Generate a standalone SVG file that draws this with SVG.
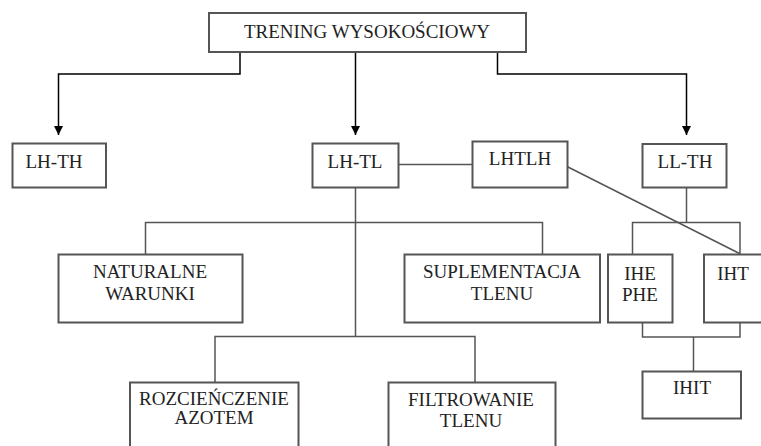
<svg xmlns="http://www.w3.org/2000/svg" width="761" height="446" viewBox="0 0 761 446">
<defs>
<marker id="arr" markerWidth="10" markerHeight="10" refX="9" refY="5" orient="auto" markerUnits="userSpaceOnUse">
<path d="M0,0.5 L9,5 L0,9.5 Z" fill="#000"/>
</marker>
<style>
.box{fill:#fff;stroke:#555;stroke-width:2}
.t{font-size:19px;fill:#222;text-anchor:middle}
.ln{fill:none;stroke:#555;stroke-width:1.5}
.ar{fill:none;stroke:#000;stroke-width:1.5}
</style>
</defs>
<rect width="761" height="446" fill="#fff"/>
<g id="connectors">
<path class="ar" d="M240,52 V74 H58.5 V135" marker-end="url(#arr)"/>
<path class="ar" d="M355.5,52 V135" marker-end="url(#arr)"/>
<path class="ar" d="M497.5,52 V74 H686.5 V135" marker-end="url(#arr)"/>
<path class="ln" d="M398,164.5 H472"/>
<path class="ln" d="M567,166.5 L739.5,253.5"/>
<path class="ln" d="M355.5,187 V337"/>
<path class="ln" d="M145.5,254.5 V222.5 H542.5 V254.5"/>
<path class="ln" d="M215,382 V336.5 H475 V382"/>
<path class="ln" d="M686.5,187 V222.5"/>
<path class="ln" d="M632.5,254.5 V222.5 H740 V254.5"/>
<path class="ln" d="M642.5,322.5 V337 H740 V322.5"/>
<path class="ln" d="M693.5,337 V371.5"/>
</g>
<g font-family="Liberation Serif, Times New Roman, serif">
<g id="n-root"><rect class="box" x="209" y="13" width="317" height="39"/><text class="t" x="367" y="38">TRENING WYSOKOŚCIOWY</text></g>
<g id="n-lhth"><rect class="box" x="12.5" y="143.5" width="93.5" height="44"/><text class="t" x="54" y="168">LH-TH</text></g>
<g id="n-lhtl"><rect class="box" x="312.5" y="143.5" width="86" height="44"/><text class="t" x="355" y="168">LH-TL</text></g>
<g id="n-lhtlh"><rect class="box" x="472.5" y="141.5" width="95" height="46"/><text class="t" x="520" y="165">LHTLH</text></g>
<g id="n-llth"><rect class="box" x="642.5" y="144" width="84" height="43.5"/><text class="t" x="685" y="168">LL-TH</text></g>
<g id="n-nat"><rect class="box" x="58.5" y="254.5" width="184" height="68"/><text class="t" x="150" y="278">NATURALNE</text><text class="t" x="150" y="300">WARUNKI</text></g>
<g id="n-sup"><rect class="box" x="404.5" y="254.5" width="195.5" height="68"/><text class="t" x="502" y="278">SUPLEMENTACJA</text><text class="t" x="502" y="300">TLENU</text></g>
<g id="n-ihe"><rect class="box" x="608" y="254.5" width="64.5" height="68"/><text class="t" x="640" y="280">IHE</text><text class="t" x="640" y="301">PHE</text></g>
<g id="n-iht"><rect class="box" x="704" y="254.5" width="70" height="68"/><text class="t" x="733" y="280">IHT</text></g>
<g id="n-rozc"><rect class="box" x="130" y="382.5" width="168.5" height="80"/><text class="t" x="214" y="405">ROZCIEŃCZENIE</text><text class="t" x="214" y="424">AZOTEM</text></g>
<g id="n-filt"><rect class="box" x="388.5" y="382.5" width="167" height="80"/><text class="t" x="471" y="406">FILTROWANIE</text><text class="t" x="471" y="427">TLENU</text></g>
<g id="n-ihit"><rect class="box" x="642.5" y="371.5" width="98.5" height="47"/><text class="t" x="692" y="394">IHIT</text></g>
</g>
</svg>
